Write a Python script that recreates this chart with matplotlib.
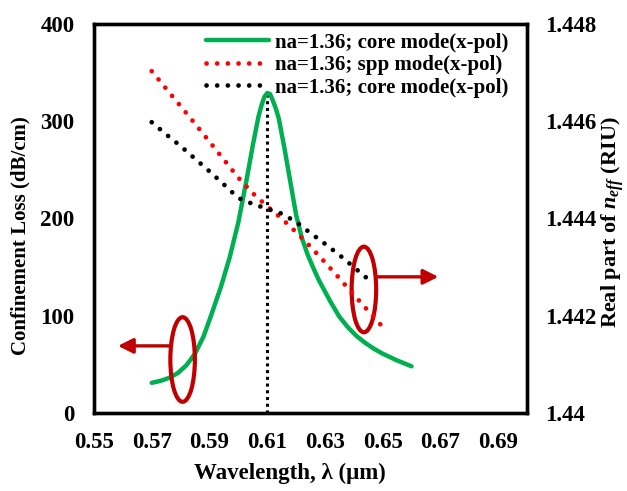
import numpy as np
import matplotlib.pyplot as plt
from matplotlib.patches import Ellipse

plt.rcParams['font.family'] = 'Liberation Serif'
plt.rcParams['font.weight'] = 'bold'
plt.rcParams['mathtext.fontset'] = 'custom'
plt.rcParams['mathtext.rm'] = 'Liberation Serif:bold'
plt.rcParams['mathtext.it'] = 'Liberation Serif:italic:bold'

# Confinement loss, core mode (left axis)
wl_loss = [0.570, 0.573, 0.576, 0.579, 0.582, 0.585, 0.588, 0.591, 0.594, 0.597,
           0.600, 0.603, 0.605, 0.607, 0.608, 0.609, 0.610, 0.611, 0.612, 0.613,
           0.614, 0.616, 0.618, 0.620, 0.622, 0.624, 0.626, 0.628, 0.630, 0.632,
           0.635, 0.638, 0.641, 0.644, 0.647, 0.650, 0.655, 0.660]
loss = [31, 33, 36, 41, 49, 61, 79, 104, 130, 160,
        196, 242, 275, 305, 316, 325, 329, 328, 321, 313,
        303, 272, 238, 204, 180, 163, 149, 136, 125, 114,
        99, 88, 79, 72, 66, 61, 54, 48]

# Real part of n_eff (right axis)
wl_spp = [0.570, 0.575, 0.580, 0.585, 0.590, 0.595, 0.600, 0.605, 0.610,
          0.615, 0.620, 0.625, 0.630, 0.635, 0.640, 0.645, 0.650]
n_spp = [1.44703, 1.44667, 1.44631, 1.44595, 1.44558, 1.44521, 1.44484, 1.44452, 1.44425,
         1.44400, 1.44372, 1.44342, 1.44310, 1.44277, 1.44243, 1.44210, 1.44177]

wl_core = [0.570, 0.575, 0.580, 0.585, 0.590, 0.595, 0.600, 0.605,
           0.610, 0.615, 0.620, 0.625, 0.630, 0.635, 0.640, 0.645]
n_core = [1.44598, 1.44573, 1.44549, 1.44523, 1.44497, 1.44470, 1.44442, 1.44430,
          1.44420, 1.44410, 1.44393, 1.44370, 1.44348, 1.44325, 1.44300, 1.44275]

wl_peak = 0.610
x_ticks = [0.55, 0.57, 0.59, 0.61, 0.63, 0.65, 0.67, 0.69]
y1_ticks = [0, 100, 200, 300, 400]
y2_ticks = [1.440, 1.442, 1.444, 1.446, 1.448]
y2_labels = ['1.44', '1.442', '1.444', '1.446', '1.448']

label = 'na=1.36; core mode(x-pol)'
label_spp = 'na=1.36; spp mode(x-pol)'

fig = plt.figure(figsize=(6.27, 4.91), dpi=100)
ax = fig.add_axes([0.1499, 0.1589, 0.6906, 0.7922])
ax2 = ax.twinx()

l1, = ax.plot(wl_loss, loss, color='#00B050', lw=3.2, solid_capstyle='round',
              solid_joinstyle='round', zorder=3)
ax.plot([wl_peak, wl_peak], [0, max(loss)], color='black', lw=2.2,
        dashes=(1, 1.2), zorder=2)

dot = dict(lw=3.4, dashes=(0.01, 2.25), dash_capstyle='round')
l2, = ax2.plot(wl_spp, n_spp, color='#FF0000', **dot)
l3, = ax2.plot(wl_core, n_core, color='black', **dot)

# annotation ellipses and arrows
red = '#C00000'
arrow = dict(arrowstyle='-|>,head_length=0.9,head_width=0.45',
             color=red, lw=2.4, shrinkA=0, shrinkB=0)
ax.add_patch(Ellipse((0.5807, 55), 0.0085, 87, fill=False, ec=red, lw=3, zorder=5))
ax.annotate('', xy=(0.5583, 69), xytext=(0.5765, 69), arrowprops=arrow, zorder=5)
ax.add_patch(Ellipse((0.6435, 127), 0.0085, 88, fill=False, ec=red, lw=3, zorder=5))
ax.annotate('', xy=(0.6693, 140), xytext=(0.6477, 140), arrowprops=arrow, zorder=5)

ax.set_xlim(0.55, 0.70)
ax.set_ylim(0, 400)
ax2.set_ylim(1.440, 1.448)
ax.set_xticks(x_ticks)
ax.set_xticklabels([f'{t:.2f}' for t in x_ticks])
ax.set_yticks(y1_ticks)
ax2.set_yticks(y2_ticks)
ax2.set_yticklabels(y2_labels)

ax.tick_params(axis='x', length=0, pad=14, labelsize=16.5)
ax.tick_params(axis='y', length=0, pad=14, labelsize=16.5)
ax2.tick_params(axis='y', length=0, pad=13, labelsize=16.5)
for a in (ax, ax2):
    for s in a.spines.values():
        s.set_linewidth(2.4)

ax.set_xlabel('Wavelength, λ (μm)', fontsize=16.5, fontweight='bold')
ax.xaxis.set_label_coords(0.453, -0.128)
ax.set_ylabel('Confinement Loss (dB/cm)', fontsize=15, fontweight='bold')
ax.yaxis.set_label_coords(-0.146, 0.455)
ax2.set_ylabel('Real part of $n_{eff}$ (RIU)', fontsize=16, fontweight='bold')
ax2.yaxis.set_label_coords(1.168, 0.49)

ax.legend([l1, l2, l3], [label, label_spp, label], loc='upper left',
          bbox_to_anchor=(0.2587, 0.978), frameon=False, fontsize=15,
          handlelength=3.0, handletextpad=0.3, labelspacing=0.12,
          borderpad=0, borderaxespad=0)

fig.savefig('out.png', dpi=100)
